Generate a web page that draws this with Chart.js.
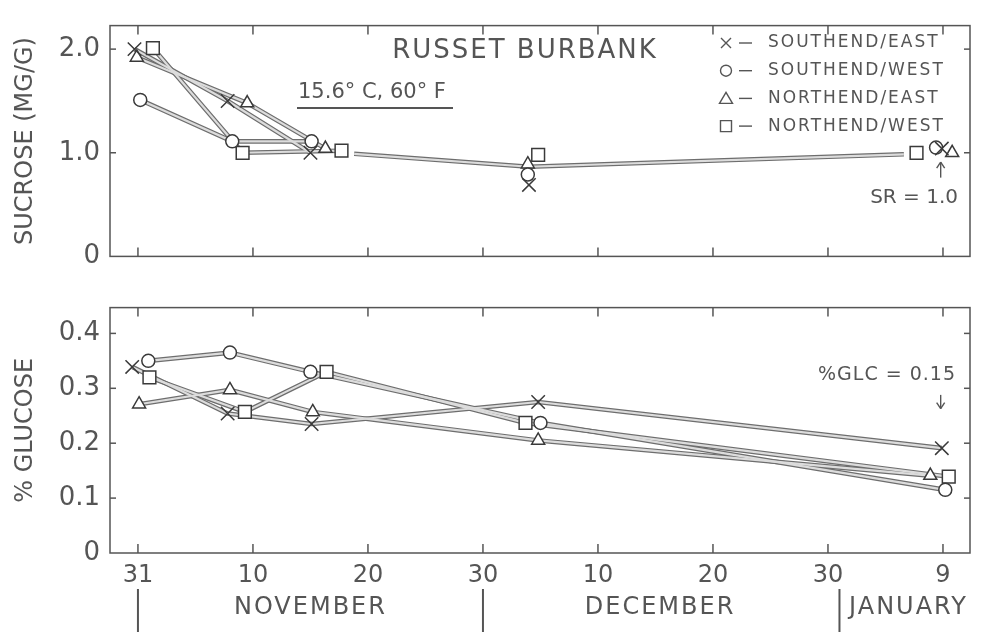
<!DOCTYPE html>
<html>
<head>
<meta charset="utf-8">
<script src="https://cdn.jsdelivr.net/npm/chart.js@4.4.1/dist/chart.umd.min.js"></script>
<style>
  html, body { margin: 0; padding: 0; background: #fff; }
  #wrap { position: relative; width: 982px; height: 632px; }
  #top_box { position: absolute; left: 0; top: 0; width: 982px; height: 282px; }
  #bot_box { position: absolute; left: 0; top: 282px; width: 982px; height: 350px; }
</style>
</head>
<body>
<div id="wrap">
  <div id="top_box"><canvas id="sucrose_chart"></canvas></div>
  <div id="bot_box"><canvas id="glucose_chart"></canvas></div>
</div>
<script>
// x = 10월 31일부터 지난 날 수
var dayTicks = [0, 10, 20, 30, 40, 50, 60, 70];
var dayTickLabels = ['31', '10', '20', '30', '10', '20', '30', '9'];
var months = ['NOVEMBER', 'DECEMBER', 'JANUARY'];
var monthBarDays = [0, 30, 61];
var monthLabelDays = [15, 45.4, 67];

var seriesNames = ['SOUTHEND/EAST', 'SOUTHEND/WEST', 'NORTHEND/EAST', 'NORTHEND/WEST'];
var seriesMarks = ['crossRot', 'circle', 'triangle', 'rect'];

// 자당 (MG/G)
var sucroseTicks = [0, 1, 2];
var sucroseTickLabels = ['0', '1.0', '2.0'];
var sucSEDays = [-0.3, 7.8, 15, 34, 69.9];
var sucSE = [2.0, 1.50, 1.0, 0.69, 1.04];
var sucSWDays = [0.2, 8.2, 15.1, 33.9, 69.4];
var sucSW = [1.51, 1.11, 1.11, 0.79, 1.05];
var sucNEDays = [-0.1, 9.5, 16.3, 33.9, 70.8];
var sucNE = [1.92, 1.48, 1.04, 0.89, 1.0];
var sucNWDays = [1.3, 9.1, 17.7, 34.8, 67.7];
var sucNW = [2.01, 1.0, 1.02, 0.98, 1.0];
// 11월 중순 이후 공통선
var sucTrendDays = [18.8, 34, 66.6];
var sucTrend = [0.99, 0.865, 0.985];

// 포도당 (%)
var glucoseTicks = [0, 0.1, 0.2, 0.3, 0.4];
var glucoseTickLabels = ['0', '0.1', '0.2', '0.3', '0.4'];
var glcSEDays = [-0.5, 7.8, 15.1, 34.8, 69.9];
var glcSE = [0.339, 0.254, 0.235, 0.275, 0.191];
var glcSWDays = [0.9, 8, 15, 35, 70.2];
var glcSW = [0.350, 0.365, 0.330, 0.237, 0.115];
var glcNEDays = [0.1, 8, 15.2, 34.8, 68.9];
var glcNE = [0.271, 0.297, 0.257, 0.205, 0.141];
var glcNWDays = [1.0, 9.3, 16.4, 33.7, 70.5];
var glcNW = [0.320, 0.257, 0.330, 0.237, 0.139];

var FONT = 'DejaVu Sans';
var textGray = '#555555';
var edgeGray = '#6e6e6e';   // 선 테두리
var fillGray = '#dcdcdc';   // 선 안쪽
var markGray = '#3a3a3a';
var markRadius = { crossRot: 9.5, circle: 6.5, triangle: 7.5, rect: 9 };
var HIDE = 'rgba(0,0,0,0)';

function pts(days, vals) {
	return days.map((d, i) => ({ x: d, y: vals[i] }));
}

// 속이 빈 띠 모양 선: 굵은 테두리선 + 안쪽 밝은 선 두 개로 그림
function ribbon(label, days, vals, lineUntil) {
	var cut = c => lineUntil != null && c.p0DataIndex >= lineUntil;
	return [{
		label: label + ' edge',
		data: pts(days, vals),
		borderColor: edgeGray,
		borderWidth: 4.6,
		pointRadius: 0,
		fill: false,
		order: 3,
		segment: { borderColor: c => cut(c) ? HIDE : edgeGray }
	}, {
		label: label + ' core',
		data: pts(days, vals),
		borderColor: fillGray,
		borderWidth: 2.2,
		pointRadius: 0,
		fill: false,
		order: 2,
		segment: { borderColor: c => cut(c) ? HIDE : fillGray }
	}];
}

function marks(label, mark, days, vals) {
	return {
		label: label,
		data: pts(days, vals),
		showLine: false,
		pointStyle: mark,
		pointRadius: markRadius[mark],
		pointBorderColor: markGray,
		pointBorderWidth: 1.5,
		pointBackgroundColor: '#ffffff',
		order: 1
	};
}

function line(ctx, x1, y1, x2, y2) {
	ctx.beginPath();
	ctx.moveTo(x1, y1);
	ctx.lineTo(x2, y2);
	ctx.stroke();
}

// 테두리와 안쪽 눈금
var framePlugin = {
	id: 'frameTicks',
	beforeDatasetsDraw(chart) {
		var ctx = chart.ctx, a = chart.chartArea;
		var x = chart.scales.x, y = chart.scales.y;
		ctx.save();
		ctx.strokeStyle = '#555555';
		ctx.lineWidth = 1.5;
		ctx.strokeRect(a.left, a.top, a.right - a.left, a.bottom - a.top);
		x.ticks.forEach(t => {
			var px = x.getPixelForValue(t.value);
			line(ctx, px, a.top, px, a.top + 9);
			line(ctx, px, a.bottom, px, a.bottom - 9);
		});
		y.ticks.forEach(t => {
			if (t.value === 0) return;
			var py = y.getPixelForValue(t.value);
			line(ctx, a.left, py, a.left + 6, py);
			line(ctx, a.right, py, a.right - 6, py);
		});
		ctx.restore();
	}
};

function drawMark(ctx, mark, cx, cy) {
	ctx.beginPath();
	if (mark === 'crossRot') {
		ctx.moveTo(cx - 5, cy - 5); ctx.lineTo(cx + 5, cy + 5);
		ctx.moveTo(cx + 5, cy - 5); ctx.lineTo(cx - 5, cy + 5);
	} else if (mark === 'circle') {
		ctx.arc(cx, cy, 5.5, 0, Math.PI * 2);
	} else if (mark === 'triangle') {
		ctx.moveTo(cx, cy - 6); ctx.lineTo(cx + 6.5, cy + 5); ctx.lineTo(cx - 6.5, cy + 5); ctx.closePath();
	} else {
		ctx.rect(cx - 5.5, cy - 5.5, 11, 11);
	}
	ctx.stroke();
}

function arrow(ctx, x, y1, y2) {
	var d = y2 > y1 ? 1 : -1;
	line(ctx, x, y1, x, y2);
	line(ctx, x - 4, y2 - d * 6, x, y2);
	line(ctx, x + 4, y2 - d * 6, x, y2);
}

// 위쪽 그림: 제목, 온도, 범례, SR 표시
var sucroseTextPlugin = {
	id: 'sucroseText',
	afterDraw(chart) {
		var ctx = chart.ctx, x = chart.scales.x, y = chart.scales.y;
		ctx.save();
		ctx.fillStyle = textGray;
		ctx.strokeStyle = textGray;
		ctx.textBaseline = 'middle';
		ctx.letterSpacing = '2px';
		ctx.font = '26px ' + FONT;
		ctx.textAlign = 'center';
		ctx.fillText('RUSSET BURBANK', 525, 51);

		ctx.font = '21px ' + FONT;
		ctx.letterSpacing = '0px';
		ctx.textAlign = 'left';
		ctx.fillText('15.6° C, 60° F', 298, 93);
		ctx.lineWidth = 2;
		line(ctx, 297, 108, 453, 108);

		ctx.font = '17px ' + FONT;
		ctx.letterSpacing = '2px';
		ctx.lineWidth = 1.4;
		seriesNames.forEach((name, i) => {
			var ry = 43 + i * 27.7;
			drawMark(ctx, seriesMarks[i], 726, ry);
			line(ctx, 739, ry, 752, ry);
			ctx.fillText(name, 768, ry);
		});

		var ax = x.getPixelForValue(69.8);
		arrow(ctx, ax, y.getPixelForValue(0.76), y.getPixelForValue(0.91));
		ctx.font = '20px ' + FONT;
		ctx.letterSpacing = '0px';
		ctx.textAlign = 'right';
		ctx.fillText('SR = 1.0', 958, y.getPixelForValue(0.57));
		ctx.restore();
	}
};

// 아래쪽 그림: %GLC 표시, 월 구분
var glucoseTextPlugin = {
	id: 'glucoseText',
	afterDraw(chart) {
		var ctx = chart.ctx, x = chart.scales.x, y = chart.scales.y;
		ctx.save();
		ctx.fillStyle = textGray;
		ctx.strokeStyle = textGray;
		ctx.textBaseline = 'middle';
		ctx.lineWidth = 1.4;
		ctx.font = '19px ' + FONT;
		ctx.letterSpacing = '1px';
		ctx.textAlign = 'right';
		ctx.fillText('%GLC = 0.15', 956, y.getPixelForValue(0.325));
		var ax = x.getPixelForValue(69.8);
		arrow(ctx, ax, y.getPixelForValue(0.288), y.getPixelForValue(0.263));

		ctx.font = '24px ' + FONT;
		ctx.letterSpacing = '2px';
		ctx.textAlign = 'center';
		ctx.lineWidth = 2;
		monthBarDays.forEach(d => {
			var px = x.getPixelForValue(d);
			line(ctx, px, 307, px, 350);
		});
		months.forEach((m, i) => {
			ctx.fillText(m, x.getPixelForValue(monthLabelDays[i]), 326);
		});
		ctx.restore();
	}
};

function xAxis(showLabels, boxHeight) {
	return {
		type: 'linear',
		min: -2.43,
		max: 72.35,
		afterBuildTicks: s => { s.ticks = dayTicks.map(v => ({ value: v })); },
		afterFit: s => { s.height = boxHeight; },
		grid: { drawOnChartArea: false, drawTicks: false },
		border: { display: false },
		ticks: {
			display: showLabels,
			padding: 8,
			color: textGray,
			font: { size: 24, family: FONT },
			callback: v => dayTickLabels[dayTicks.indexOf(v)]
		}
	};
}

function yAxis(max, tickVals, tickLabels, title, titlePad) {
	return {
		type: 'linear',
		min: 0,
		max: max,
		afterBuildTicks: s => { s.ticks = tickVals.map(v => ({ value: v })); },
		afterFit: s => { s.width = 110; },
		grid: { drawOnChartArea: false, drawTicks: false },
		border: { display: false },
		ticks: {
			padding: 10,
			color: textGray,
			font: { size: 26, family: FONT },
			callback: v => tickLabels[tickVals.indexOf(v)]
		},
		title: {
			display: true,
			text: title,
			color: textGray,
			font: { size: 24, family: FONT },
			padding: { top: titlePad, bottom: 0 }
		}
	};
}

var commonOptions = {
	responsive: true,
	maintainAspectRatio: false,
	animation: false,
	plugins: { legend: { display: false }, tooltip: { enabled: false } }
};

var sucroseChart = new Chart(document.getElementById('sucrose_chart'), {
	type: 'line',
	data: {
		datasets: [].concat(
			ribbon('SE', sucSEDays, sucSE, 2),
			ribbon('SW', sucSWDays, sucSW, 2),
			ribbon('NE', sucNEDays, sucNE, 2),
			ribbon('NW', sucNWDays, sucNW, 2),
			ribbon('trend', sucTrendDays, sucTrend, null),
			[
				marks(seriesNames[0], 'crossRot', sucSEDays, sucSE),
				marks(seriesNames[1], 'circle', sucSWDays, sucSW),
				marks(seriesNames[2], 'triangle', sucNEDays, sucNE),
				marks(seriesNames[3], 'rect', sucNWDays, sucNW)
			]
		)
	},
	options: Object.assign({}, commonOptions, {
		layout: { padding: { left: 0, right: 12, top: 12, bottom: 0 } },
		scales: {
			x: xAxis(false, 15),
			y: yAxis(2.227, sucroseTicks, sucroseTickLabels, 'SUCROSE (MG/G)', 11)
		}
	}),
	plugins: [framePlugin, sucroseTextPlugin]
});

var glucoseChart = new Chart(document.getElementById('glucose_chart'), {
	type: 'line',
	data: {
		datasets: [].concat(
			ribbon('SE', glcSEDays, glcSE, null),
			ribbon('SW', glcSWDays, glcSW, null),
			ribbon('NE', glcNEDays, glcNE, null),
			ribbon('NW', glcNWDays, glcNW, null),
			[
				marks(seriesNames[0], 'crossRot', glcSEDays, glcSE),
				marks(seriesNames[1], 'circle', glcSWDays, glcSW),
				marks(seriesNames[2], 'triangle', glcNEDays, glcNE),
				marks(seriesNames[3], 'rect', glcNWDays, glcNW)
			]
		)
	},
	options: Object.assign({}, commonOptions, {
		layout: { padding: { left: 0, right: 12, top: 14, bottom: 0 } },
		scales: {
			x: xAxis(true, 79),
			y: yAxis(0.447, glucoseTicks, glucoseTickLabels, '% GLUCOSE', 11)
		}
	}),
	plugins: [framePlugin, glucoseTextPlugin]
});
</script>
</body>
</html>
